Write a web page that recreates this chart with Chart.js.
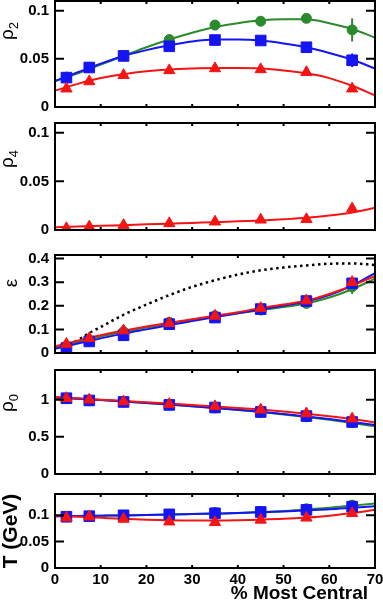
<!DOCTYPE html>
<html><head><meta charset="utf-8">
<script src="https://cdn.jsdelivr.net/npm/chart.js@4.4.1/dist/chart.umd.min.js"></script>
<style>
html,body{margin:0;padding:0;background:#fff;width:383px;height:600px;overflow:hidden}
canvas{position:absolute;left:0}
</style></head><body>
<canvas id="c1" width="383" height="115" style="top:0px"></canvas>
<canvas id="c2" width="383" height="125" style="top:115px"></canvas>
<canvas id="c3" width="383" height="122" style="top:240px"></canvas>
<canvas id="c4" width="383" height="122" style="top:362px"></canvas>
<canvas id="c5" width="383" height="116" style="top:484px"></canvas>
<script>
// ---------- DATA ----------
const centrality = [2.5, 7.5, 15, 25, 35, 45, 55, 65];
const curveX = [0, 5, 10, 15, 20, 25, 30, 35, 40, 45, 50, 55, 60, 65, 70];
const xTicks = [0, 10, 20, 30, 40, 50, 60, 70];
const xTickLabels = ['0', '10', '20', '30', '40', '50', '60', '70'];
const xTitle = '% Most Central';

// rho2
const rho2Green = [0.031, 0.041, 0.053, 0.070, 0.085, 0.089, 0.092, 0.080];
const rho2GreenErr = [0, 0, 0, 0, 0.001, 0.001, 0.004, 0.012];
const rho2Blue = [0.0305, 0.041, 0.053, 0.063, 0.0695, 0.069, 0.062, 0.0485];
const rho2BlueErr = [0, 0, 0, 0, 0, 0, 0.001, 0.007];
const rho2Red = [0.019, 0.0265, 0.033, 0.038, 0.040, 0.039, 0.036, 0.019];
const rho2GreenFit = [0.027, 0.035, 0.044, 0.053, 0.062, 0.070, 0.077, 0.083, 0.087, 0.090, 0.091, 0.091, 0.087, 0.081, 0.072];
const rho2BlueFit = [0.027, 0.036, 0.045, 0.053, 0.059, 0.064, 0.068, 0.070, 0.070, 0.069, 0.066, 0.062, 0.056, 0.049, 0.040];
const rho2RedFit = [0.017, 0.024, 0.030, 0.034, 0.037, 0.039, 0.040, 0.0405, 0.0405, 0.040, 0.038, 0.035, 0.030, 0.022, 0.012];
const rho2Ticks = [0, 0.05, 0.1];
const rho2TickLabels = ['0', '0.05', '0.1'];

// rho4
const rho4Red = [0.0017, 0.0034, 0.005, 0.0068, 0.0085, 0.0105, 0.011, 0.022];
const rho4RedFit = [0.0027, 0.0035, 0.0043, 0.005, 0.0058, 0.0065, 0.0073, 0.008, 0.009, 0.0098, 0.011, 0.0125, 0.0148, 0.018, 0.0228];
const rho4Ticks = [0, 0.05, 0.1];
const rho4TickLabels = ['0', '0.05', '0.1'];

// epsilon
const epsGreen = [0.030, 0.056, 0.090, 0.130, 0.158, 0.182, 0.210, 0.280];
const epsGreenErr = [0, 0, 0, 0, 0, 0, 0.006, 0.03];
const epsBlue = [0.021, 0.049, 0.075, 0.122, 0.150, 0.186, 0.220, 0.295];
const epsBlueErr = [0, 0, 0, 0, 0, 0, 0, 0.012];
const epsRed = [0.038, 0.062, 0.095, 0.126, 0.157, 0.190, 0.222, 0.300];
const epsGreenFit = [0.022, 0.046, 0.070, 0.090, 0.108, 0.125, 0.140, 0.155, 0.168, 0.182, 0.195, 0.210, 0.235, 0.270, 0.315];
const epsBlueFit = [0.018, 0.040, 0.062, 0.082, 0.100, 0.118, 0.135, 0.152, 0.168, 0.185, 0.200, 0.218, 0.245, 0.285, 0.338];
const epsRedFit = [0.028, 0.052, 0.075, 0.095, 0.112, 0.128, 0.143, 0.158, 0.173, 0.190, 0.205, 0.222, 0.250, 0.285, 0.325];
const epsDottedX = [2, 5, 8, 10, 15, 20, 25, 30, 35, 40, 45, 50, 55, 60, 65, 70];
const epsDotted = [0.024, 0.055, 0.090, 0.110, 0.162, 0.205, 0.245, 0.280, 0.308, 0.332, 0.350, 0.362, 0.371, 0.378, 0.379, 0.373];
const epsTicks = [0, 0.1, 0.2, 0.3, 0.4];
const epsTickLabels = ['0', '0.1', '0.2', '0.3', '0.4'];

// rho0
const rho0Green = [1.02, 0.99, 0.97, 0.93, 0.89, 0.83, 0.77, 0.69];
const rho0Blue = [1.02, 0.99, 0.97, 0.93, 0.895, 0.835, 0.78, 0.70];
const rho0Red = [1.02, 1.00, 0.975, 0.94, 0.91, 0.865, 0.815, 0.745];
const rho0GreenFit = [1.03, 1.012, 0.995, 0.975, 0.955, 0.935, 0.912, 0.888, 0.862, 0.833, 0.802, 0.768, 0.730, 0.688, 0.642];
const rho0BlueFit = [1.03, 1.012, 0.995, 0.975, 0.955, 0.935, 0.912, 0.890, 0.865, 0.837, 0.807, 0.775, 0.740, 0.700, 0.660];
const rho0RedFit = [1.035, 1.02, 1.00, 0.985, 0.965, 0.948, 0.930, 0.910, 0.890, 0.867, 0.842, 0.812, 0.778, 0.740, 0.695];
const rho0Ticks = [0, 0.5, 1];
const rho0TickLabels = ['0', '0.5', '1'];

// T
const tGreen = [0.097, 0.098, 0.0997, 0.1015, 0.105, 0.107, 0.112, 0.119];
const tBlue = [0.097, 0.098, 0.0997, 0.1015, 0.1035, 0.106, 0.110, 0.116];
const tRed = [0.095, 0.097, 0.0927, 0.0876, 0.0864, 0.091, 0.095, 0.1035];
const tGreenFit = [0.098, 0.0985, 0.099, 0.0995, 0.1005, 0.101, 0.102, 0.103, 0.104, 0.106, 0.108, 0.111, 0.114, 0.118, 0.122];
const tBlueFit = [0.098, 0.0985, 0.099, 0.0995, 0.1005, 0.101, 0.102, 0.103, 0.104, 0.1055, 0.107, 0.109, 0.111, 0.114, 0.117];
const tRedFit = [0.099, 0.097, 0.095, 0.093, 0.0915, 0.0905, 0.090, 0.090, 0.0905, 0.0915, 0.093, 0.0955, 0.099, 0.104, 0.110];
const tTicks = [0, 0.05, 0.1];
const tTickLabels = ['0', '0.05', '0.1'];

// ---------- STYLE ----------
const GREEN = '#2b8a2b', BLUE = '#1414f5', RED = '#f51414';
const FAM = '"Liberation Sans", Arial, Helvetica, sans-serif';

function pts(xs, ys) { return xs.map((x, i) => ({ x: x, y: ys[i] })); }
function fit(ys, color, order) {
  return { data: pts(curveX, ys), borderColor: color, borderWidth: 2, pointRadius: 0, fill: false,
    cubicInterpolationMode: 'monotone', order: order };
}
function marks(ys, color, style, radius, order, errs) {
  return { data: pts(centrality, ys), showLine: false, pointStyle: style, pointRadius: radius,
    backgroundColor: color, borderColor: color, borderWidth: 1, order: order, errs: errs || null };
}

const errPlugin = {
  id: 'errbars',
  beforeDatasetsDraw(chart) {
    const { ctx } = chart;
    const x = chart.scales.x, y = chart.scales.y;
    chart.data.datasets.forEach(ds => {
      if (!ds.errs) return;
      ctx.save(); ctx.strokeStyle = ds.borderColor; ctx.lineWidth = 2;
      ds.errs.forEach((e, i) => {
        if (!e) return;
        const px = x.getPixelForValue(ds.data[i].x);
        ctx.beginPath();
        ctx.moveTo(px, y.getPixelForValue(ds.data[i].y - e));
        ctx.lineTo(px, y.getPixelForValue(ds.data[i].y + e));
        ctx.stroke();
      });
      ctx.restore();
    });
  }
};

const framePlugin = {
  id: 'frame',
  afterDraw(chart, args, o) {
    const { ctx, chartArea: a } = chart;
    const x = chart.scales.x, y = chart.scales.y;
    ctx.save();
    ctx.strokeStyle = '#000'; ctx.lineWidth = 2;
    ctx.strokeRect(a.left, a.top, a.right - a.left, a.bottom - a.top);
    ctx.beginPath();
    xTicks.forEach(v => {
      if (v <= x.min || v >= x.max) return;
      const px = x.getPixelForValue(v);
      ctx.moveTo(px, a.bottom); ctx.lineTo(px, a.bottom - 3);
      ctx.moveTo(px, a.top); ctx.lineTo(px, a.top + 3);
    });
    o.yTicks.forEach(v => {
      if (v <= y.min || v >= y.max) return;
      const py = y.getPixelForValue(v);
      ctx.moveTo(a.left, py); ctx.lineTo(a.left + 9, py);
      ctx.moveTo(a.right, py); ctx.lineTo(a.right - 9, py);
    });
    ctx.stroke();
    // rotated y title
    const t = o.title;
    ctx.fillStyle = '#000';
    ctx.translate(t.bx, t.cy - o.top);
    ctx.rotate(-Math.PI / 2);
    ctx.textAlign = 'left'; ctx.textBaseline = 'alphabetic';
    ctx.font = t.mainFont;
    const w1 = ctx.measureText(t.main).width;
    let w2 = 0;
    if (t.sub) { ctx.font = t.subFont; w2 = ctx.measureText(t.sub).width; }
    const u0 = -(w1 + w2) / 2;
    ctx.font = t.mainFont; ctx.fillText(t.main, u0, 0);
    if (t.sub) { ctx.font = t.subFont; ctx.fillText(t.sub, u0 + w1, 5); }
    ctx.setTransform(1, 0, 0, 1, 0, 0);
    if (o.xTitle) {
      ctx.font = 'bold 19px ' + FAM; ctx.textAlign = 'right'; ctx.textBaseline = 'alphabetic';
      ctx.fillText(o.xTitle, 368, 599 - o.top);
    }
    ctx.restore();
  }
};

function makeChart(id, top, padTop, padBottom, ymax, yTicks, yLabels, datasets, title, showX) {
  const tickFont = { family: FAM, size: 15, weight: 'bold' };
  const xScale = {
    type: 'linear', min: 0, max: 70, display: showX,
    afterBuildTicks: s => { s.ticks = xTicks.map(v => ({ value: v })); },
    grid: { display: false, drawTicks: false }, border: { display: false },
    ticks: { padding: 3, font: tickFont, color: '#000', maxRotation: 0, autoSkip: false,
      callback: (v, i) => xTickLabels[i] }
  };
  xScale.afterFit = s => { s.paddingLeft = 0; s.paddingRight = 0; if (showX) s.height = 32; };
  new Chart(document.getElementById(id), {
    type: 'line',
    data: { datasets: datasets },
    plugins: [errPlugin, framePlugin],
    options: {
      responsive: false, animation: false, events: [],
      layout: { autoPadding: false, padding: { left: 0, right: 8, top: padTop, bottom: padBottom } },
      plugins: { legend: { display: false }, tooltip: { enabled: false },
        frame: { yTicks: yTicks, title: title, top: top, xTitle: showX ? xTitle : null } },
      scales: {
        x: xScale,
        y: { min: 0, max: ymax,
          afterBuildTicks: s => { s.ticks = yTicks.map(v => ({ value: v })); },
          afterFit: s => { s.width = 55; s.paddingTop = 0; s.paddingBottom = 0; },
          grid: { display: false, drawTicks: false }, border: { display: false },
          ticks: { padding: 6, font: tickFont, color: '#000', autoSkip: false,
            callback: (v, i) => yLabels[i] } }
      }
    }
  });
}

const rhoFont = '19px ' + FAM, subFont = '13px ' + FAM;

makeChart('c1', 0, 1, 8, 0.11, rho2Ticks, rho2TickLabels, [
  fit(rho2GreenFit, GREEN, 6), fit(rho2BlueFit, BLUE, 5), fit(rho2RedFit, RED, 4),
  marks(rho2Green, GREEN, 'circle', 5, 3, rho2GreenErr),
  marks(rho2Blue, BLUE, 'rect', 7.5, 2, rho2BlueErr),
  marks(rho2Red, RED, 'triangle', 6.5, 1)
], { main: 'ρ', sub: '2', cy: 31, bx: 13, mainFont: rhoFont, subFont: subFont }, false);

makeChart('c2', 115, 8, 10, 0.11, rho4Ticks, rho4TickLabels, [
  fit(rho4RedFit, RED, 2),
  marks(rho4Red, RED, 'triangle', 6.5, 1)
], { main: 'ρ', sub: '4', cy: 159, bx: 13, mainFont: rhoFont, subFont: subFont }, false);

makeChart('c3', 240, 15, 9, 0.415, epsTicks, epsTickLabels, [
  { data: pts(epsDottedX, epsDotted), borderColor: '#000', borderWidth: 2.5, borderDash: [2.5, 3.5],
    pointRadius: 0, fill: false, cubicInterpolationMode: 'monotone', order: 7 },
  fit(epsGreenFit, GREEN, 6), fit(epsBlueFit, BLUE, 5), fit(epsRedFit, RED, 4),
  marks(epsGreen, GREEN, 'circle', 5, 3, epsGreenErr),
  marks(epsBlue, BLUE, 'rect', 7.5, 2, epsBlueErr),
  marks(epsRed, RED, 'triangle', 6.5, 1)
], { main: 'ε', sub: '', cy: 283, bx: 17, mainFont: '19px ' + FAM, subFont: subFont }, false);

makeChart('c4', 362, 8, 10, 1.4, rho0Ticks, rho0TickLabels, [
  fit(rho0GreenFit, GREEN, 6), fit(rho0BlueFit, BLUE, 5), fit(rho0RedFit, RED, 4),
  marks(rho0Green, GREEN, 'circle', 5, 3),
  marks(rho0Blue, BLUE, 'rect', 7.5, 2),
  marks(rho0Red, RED, 'triangle', 6.5, 1)
], { main: 'ρ', sub: '0', cy: 403, bx: 13, mainFont: rhoFont, subFont: subFont }, false);

makeChart('c5', 484, 10, 0, 0.14, tTicks, tTickLabels, [
  fit(tGreenFit, GREEN, 6), fit(tBlueFit, BLUE, 5), fit(tRedFit, RED, 4),
  marks(tGreen, GREEN, 'circle', 5, 3),
  marks(tBlue, BLUE, 'rect', 7.5, 2),
  marks(tRed, RED, 'triangle', 6.5, 1)
], { main: 'T (GeV)', sub: '', cy: 531, bx: 17, mainFont: 'bold 21px ' + FAM, subFont: subFont }, true);
</script>
</body></html>
